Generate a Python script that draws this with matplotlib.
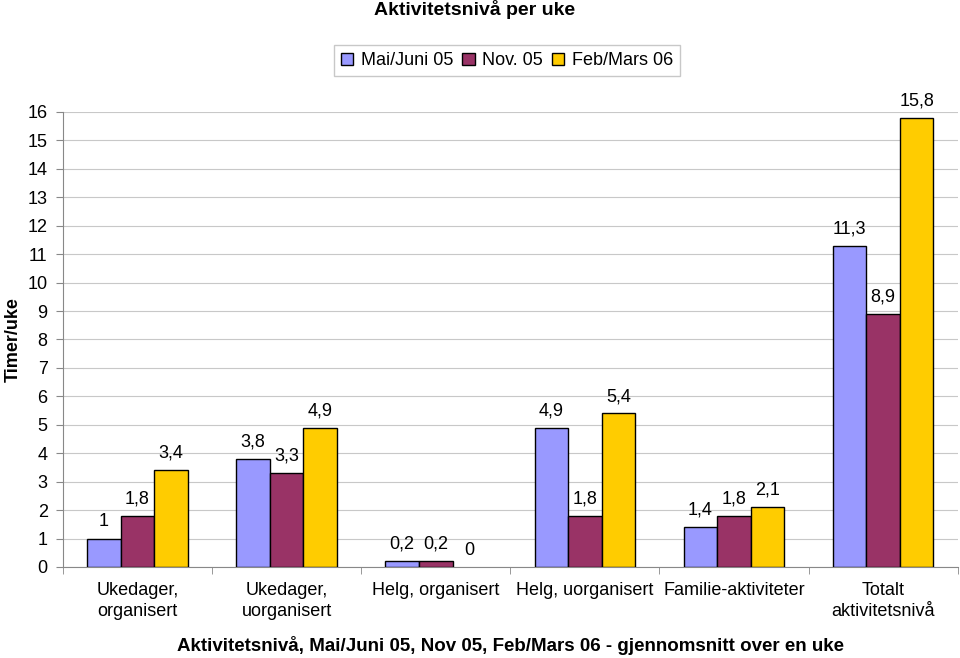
import numpy as np, matplotlib
matplotlib.use("Agg")
import matplotlib.pyplot as plt

plt.rcParams['font.family'] = ['Liberation Sans', 'DejaVu Sans']

categories = ['Ukedager,\norganisert', 'Ukedager,\nuorganisert', 'Helg, organisert',
              'Helg, uorganisert', 'Familie-aktiviteter', 'Totalt\naktivitetsnivå']
series = ['Mai/Juni 05', 'Nov. 05', 'Feb/Mars 06']
mai_juni = [1.0, 3.8, 0.2, 4.9, 1.4, 11.3]
nov = [1.8, 3.3, 0.2, 1.8, 1.8, 8.9]
feb_mars = [3.4, 4.9, 0.0, 5.4, 2.1, 15.8]
colors = ['#9999FF', '#993366', '#FFCC00']

fig = plt.figure(figsize=(9.6, 6.58), dpi=100)
ax = fig.add_axes([0.0656, 0.1383, 0.932, 0.6915])

x = np.arange(len(categories))
w = 0.225
for i, (vals, lab, col) in enumerate(zip([mai_juni, nov, feb_mars], series, colors)):
    pos = x + (i - 1) * w
    lws = [1 if v > 0 else 0 for v in vals]
    ax.bar(pos, vals, w, color=col, edgecolor='black', linewidth=lws, label=lab, zorder=3)
    for p, v in zip(pos, vals):
        txt = ('%g' % v).replace('.', ',')
        ax.annotate(txt, (p, v), xytext=(0, 6), textcoords='offset points',
                    ha='center', va='bottom', fontsize=13)

ax.set_xlim(-0.5, len(categories) - 0.5)
ax.set_ylim(0, 16)
ax.set_yticks(range(0, 17))
ax.grid(axis='y', color='#c8c8c8', lw=0.8, zorder=0)
ax.set_xticks(x)
ax.set_xticklabels(categories, fontsize=13, va='top', linespacing=1.25)
ax.tick_params(axis='x', length=0, pad=11)
ax.set_xticks(np.arange(-0.5, len(categories)), minor=True)
ax.tick_params(axis='x', which='minor', length=5, color='#888888')
ax.tick_params(axis='y', labelsize=13, length=5, color='#888888', pad=6)
for s in ['top', 'right']:
    ax.spines[s].set_visible(False)
for s in ['left', 'bottom']:
    ax.spines[s].set_color('#888888')

ax.set_ylabel('Timer/uke', fontsize=13, fontweight='bold', labelpad=4)
ax.set_xlabel('Aktivitetsnivå, Mai/Juni 05, Nov 05, Feb/Mars 06 - gjennomsnitt over en uke',
              fontsize=13.5, fontweight='bold', labelpad=12)
fig.text(0.494, 0.985, 'Aktivitetsnivå per uke', fontsize=14, fontweight='bold',
         ha='center', va='center')

leg = ax.legend(loc='upper center', bbox_to_anchor=(0.496, 1.167), ncol=3, fontsize=13,
                frameon=True, fancybox=False, edgecolor='#bbbbbb', handlelength=0.7,
                handleheight=0.7, handletextpad=0.4, columnspacing=0.5, borderpad=0.4)

fig.savefig('out.png', dpi=100)
print('saved out.png')
